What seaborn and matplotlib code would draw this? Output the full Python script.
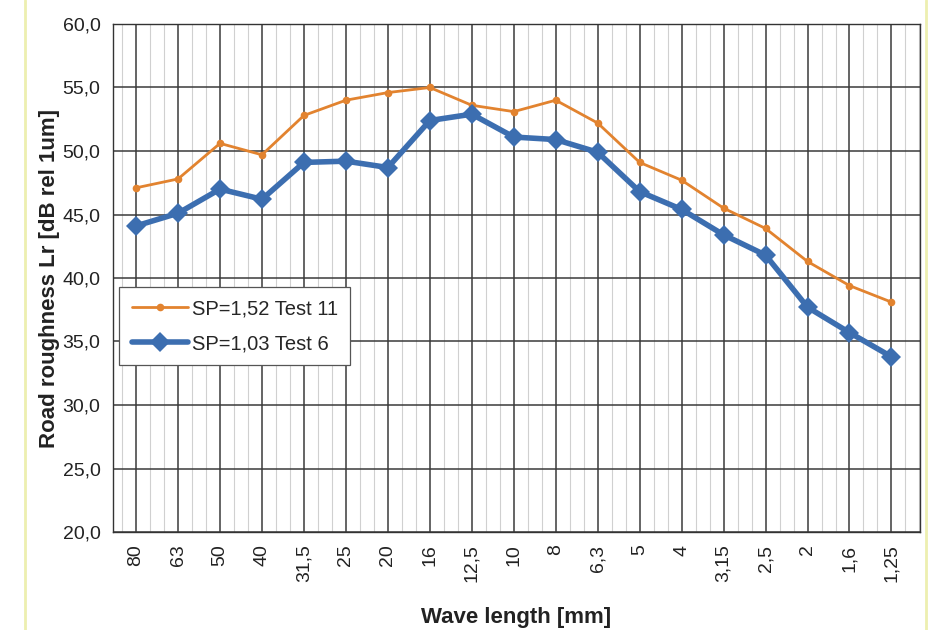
import pandas as pd
import matplotlib.pyplot as plt
import seaborn as sns
import numpy as np
from matplotlib.ticker import MultipleLocator

wave_length = ["80", "63", "50", "40", "31,5", "25", "20", "16", "12,5", "10",
               "8", "6,3", "5", "4", "3,15", "2,5", "2", "1,6", "1,25"]
test11 = [47.1, 47.8, 50.6, 49.7, 52.8, 54.0, 54.6, 55.0, 53.6, 53.1,
          54.0, 52.2, 49.1, 47.7, 45.5, 43.9, 41.3, 39.4, 38.1]
test6 = [44.1, 45.1, 47.0, 46.2, 49.1, 49.2, 48.7, 52.4, 52.9, 51.1,
         50.9, 49.9, 46.8, 45.4, 43.4, 41.8, 37.7, 35.7, 33.8]
y_ticks = [20, 25, 30, 35, 40, 45, 50, 55, 60]

ORANGE = "#E2832F"
BLUE = "#3C6EB0"

sns.set_style("white")
plt.rcParams["font.family"] = ["Liberation Sans", "DejaVu Sans"]

df = pd.DataFrame({"wave": wave_length, "t11": test11, "t6": test6})

fig = plt.figure(figsize=(9.31, 6.3), dpi=100)
ax = fig.add_axes([113 / 931, 1 - 532 / 630, (920 - 113) / 931, (532 - 24) / 630])

sns.lineplot(data=df, x="wave", y="t11", sort=False, color=ORANGE, linewidth=2,
             marker="o", markersize=5.5, markeredgewidth=0, label="SP=1,52 Test 11", ax=ax)
sns.lineplot(data=df, x="wave", y="t6", sort=False, color=BLUE, linewidth=4,
             marker="D", markersize=10, markeredgewidth=0, label="SP=1,03 Test 6", ax=ax)

ax.set_ylim(20, 60)
ax.set_xlim(-0.55, len(wave_length) - 1 + 0.68)
ax.set_yticks(y_ticks)
ax.set_yticklabels([f"{v:.1f}".replace(".", ",") for v in y_ticks], fontsize=14, color="#222")
ax.set_xticks(range(len(wave_length)))
ax.set_xticklabels(wave_length, rotation=90, fontsize=14, color="#222")
ax.xaxis.set_minor_locator(MultipleLocator(1 / 3))

ax.grid(which="major", axis="both", color="#3a3a3a", linewidth=1.1)
ax.grid(which="minor", axis="x", color="#d0d0d0", linewidth=0.8)
ax.set_axisbelow(True)
ax.tick_params(axis="both", which="major", length=5, color="#333", direction="out", pad=4)
ax.tick_params(axis="x", which="minor", length=0)

for s in ["top", "right", "bottom", "left"]:
    ax.spines[s].set_color("#333")
    ax.spines[s].set_linewidth(1.0)

ax.set_xlabel("Wave length [mm]", fontsize=16, fontweight="bold", color="#222", labelpad=18)
ax.set_ylabel("Road roughness Lr [dB rel 1um]", fontsize=16, fontweight="bold", color="#222", labelpad=2)

leg = ax.legend(loc="upper left", bbox_to_anchor=(0.008, 0.482), borderaxespad=0,
                fontsize=14.5, frameon=True, fancybox=False, edgecolor="#555", framealpha=1,
                handlelength=2.8, handletextpad=0.2, borderpad=0.6, labelspacing=0.8)
leg.get_frame().set_linewidth(0.9)

# light yellow page edges
fig.add_artist(plt.Line2D([25 / 931, 25 / 931], [0, 1], color="#EDEFB0", linewidth=2))
fig.add_artist(plt.Line2D([926 / 931, 926 / 931], [0, 1], color="#EDEFB0", linewidth=2))

fig.savefig("out.png", dpi=100)
